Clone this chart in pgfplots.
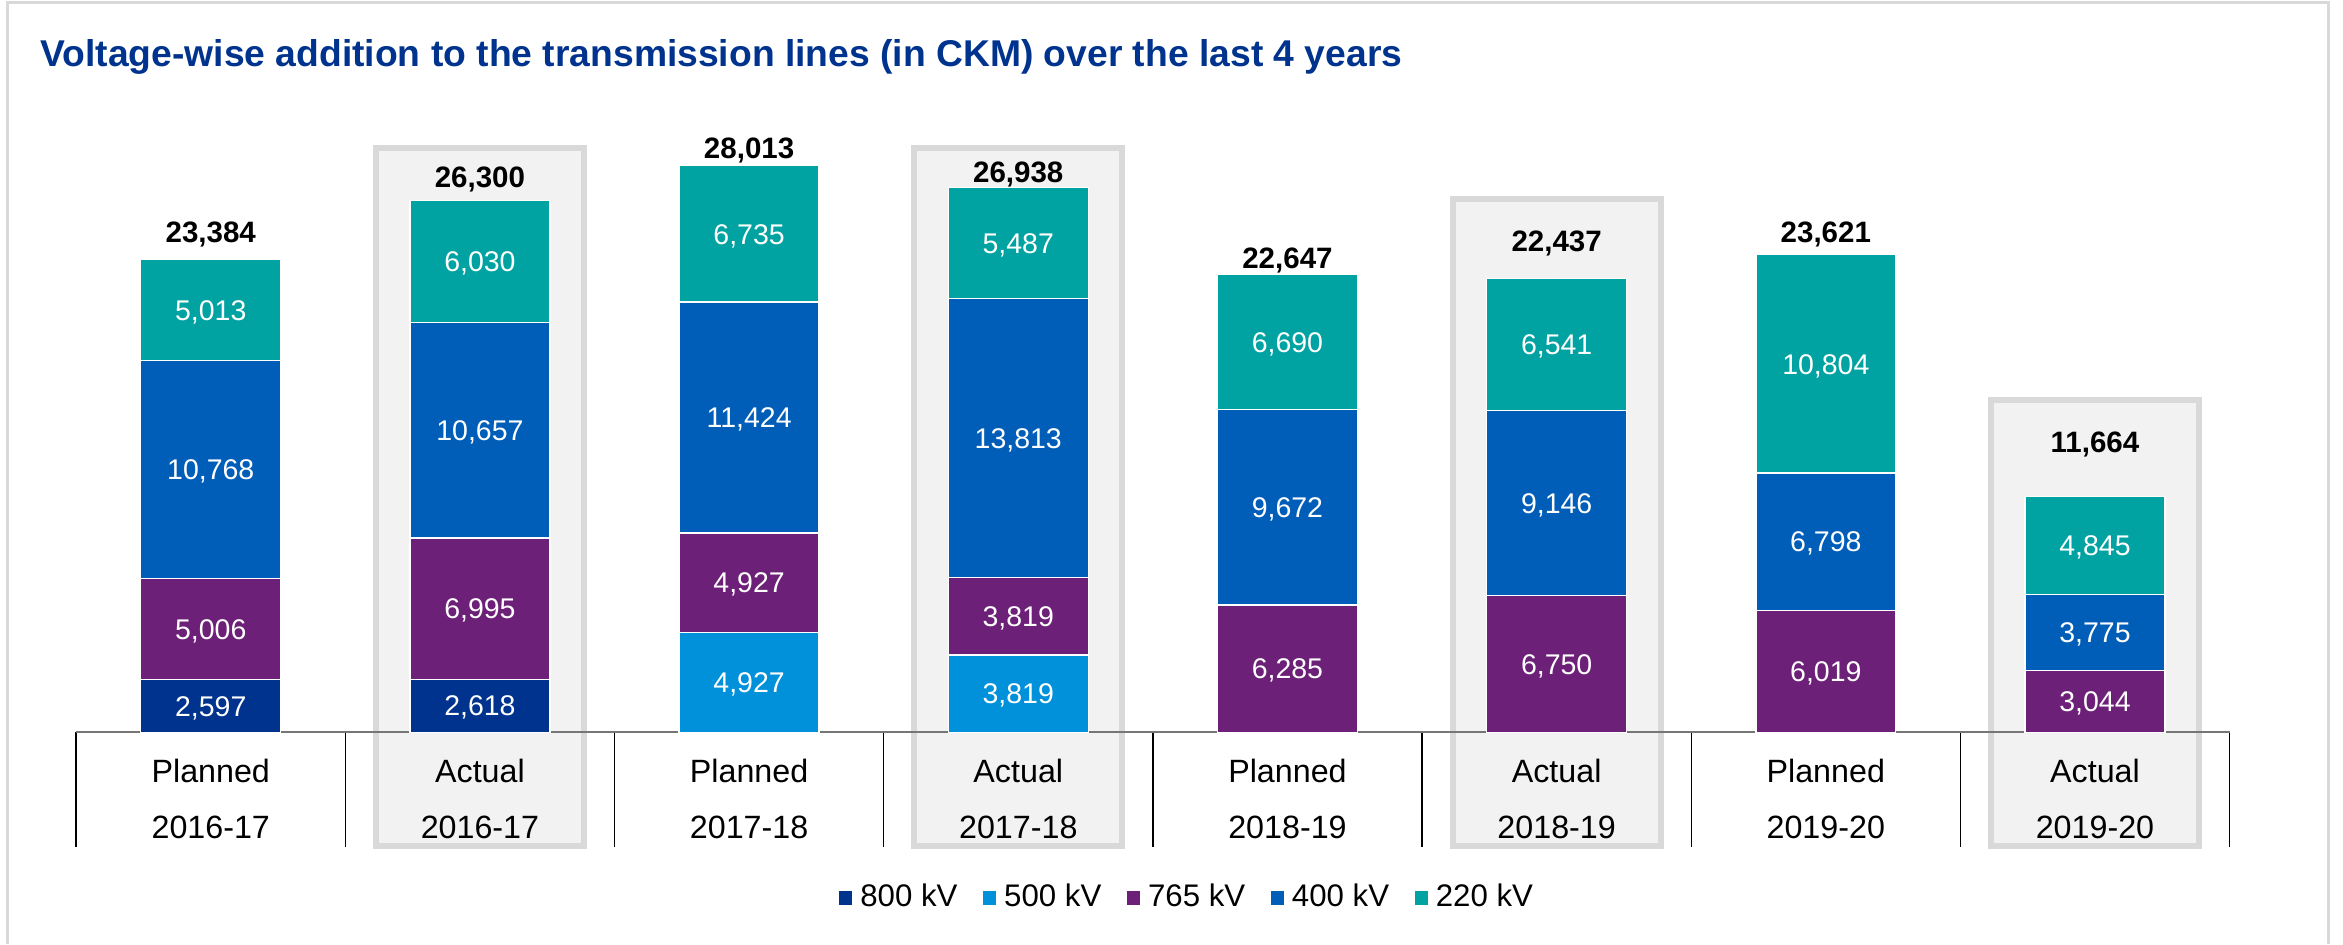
\documentclass[border=0pt]{standalone}
\usepackage{fontspec}
\setmainfont{Liberation Sans}
\usepackage{pgfplots}
\usepackage{pgfplotstable}
\pgfplotsset{compat=1.18}

\definecolor{c800}{HTML}{00338D}
\definecolor{c500}{HTML}{0091DA}
\definecolor{c765}{HTML}{6D2077}
\definecolor{c400}{HTML}{005EB8}
\definecolor{c220}{HTML}{00A3A1}
\definecolor{boxfill}{HTML}{F2F2F2}
\definecolor{boxline}{HTML}{D9D9D9}
\definecolor{baseln}{HTML}{767676}

% columns: category index, the five voltage classes, total, gap of the total label (pt)
\pgfplotstableread{
x v800 v500 v765 v400 v220 tot off
0 2597 0    5006 10768 5013  23384 5.0
1 2618 0    6995 10657 6030  26300 3.7
2 0    4927 4927 11424 6735  28013 2.0
3 0    3819 3819 13813 5487  26938 1.6
4 0    0    6285 9672  6690  22647 1.6
5 0    0    6750 9146  6541  22437 7.8
6 0    0    6019 6798  10804 23621 3.5
7 0    0    3044 3775  4845  11664 12.9
}\linedata

\pgfplotsset{
  /pgf/number format/1000 sep={,},
  /pgf/number format/assume math mode=true,
  frame/.style={scale only axis, width=627.6pt, height=176.8pt,
    xmin=-0.5, xmax=7.5, ymin=0, ymax=30000, clip=false},
  seg/.style={fill=#1, draw=white, line width=0.4pt, point meta=explicit,
    nodes near coords={\pgfmathfloatifflags{\pgfplotspointmeta}{0}{}{\pgfmathprintnumber{\pgfplotspointmeta}}},
    every node near coord/.append style={anchor=base, text=white,
      font=\fontsize{8.3}{10}\selectfont, yshift=-2.98pt}},
}

\begin{document}
\begin{tikzpicture}
% grey frames behind the "Actual" columns
\draw[boxline, fill=boxfill, line width=1.74pt] (87.39pt,-33.24pt) rectangle (147.96pt,170.32pt);
\draw[boxline, fill=boxfill, line width=1.74pt] (244.29pt,-33.24pt) rectangle (304.86pt,170.32pt);
\draw[boxline, fill=boxfill, line width=1.74pt] (401.19pt,-33.24pt) rectangle (461.76pt,155.52pt);
\draw[boxline, fill=boxfill, line width=1.74pt] (558.09pt,-33.24pt) rectangle (618.66pt,96.70pt);

\begin{axis}[
  frame,
  ybar stacked, bar width=0.52,
  axis line style={draw=none},
  major tick length=0pt,
  ytick=\empty,
  xtick={0,...,7},
  xticklabels={{Planned\\2016-17},{Actual\\2016-17},{Planned\\2017-18},{Actual\\2017-18},
               {Planned\\2018-19},{Actual\\2018-19},{Planned\\2019-20},{Actual\\2019-20}},
  xticklabel style={align=center, anchor=north, inner sep=0pt, yshift=-7.6pt,
    font=\fontsize{9.4}{16.4}\selectfont},
  legend style={at={(0.5167,-0.2735)}, anchor=center, draw=none, fill=none,
    legend columns=-1, font=\fontsize{9.1}{11}\selectfont,
    /tikz/every even column/.append style={column sep=5pt}},
  legend image code/.code={\fill[#1] (0pt,-2.3pt) rectangle (4.2pt,2.3pt);},
]
\addplot[seg=c800] table[x=x, y=v800, meta=v800] {\linedata};
\addplot[seg=c500] table[x=x, y=v500, meta=v500] {\linedata};
\addplot[seg=c765] table[x=x, y=v765, meta=v765] {\linedata};
\addplot[seg=c400] table[x=x, y=v400, meta=v400] {\linedata};
\addplot[seg=c220] table[x=x, y=v220, meta=v220] {\linedata};
\legend{800 kV, 500 kV, 765 kV, 400 kV, 220 kV}

\draw[baseln, line width=0.7pt] (axis cs:-0.5,0) -- (axis cs:7.5,0);
\draw[black, line width=0.4pt]
  (axis cs:-0.5,0) -- (axis cs:-0.5,-5669)
  (axis cs:0.5,0) -- (axis cs:0.5,-5669)
  (axis cs:1.5,0) -- (axis cs:1.5,-5669)
  (axis cs:2.5,0) -- (axis cs:2.5,-5669)
  (axis cs:3.5,0) -- (axis cs:3.5,-5669)
  (axis cs:4.5,0) -- (axis cs:4.5,-5669)
  (axis cs:5.5,0) -- (axis cs:5.5,-5669)
  (axis cs:6.5,0) -- (axis cs:6.5,-5669)
  (axis cs:7.5,0) -- (axis cs:7.5,-5669);
\end{axis}

% totals above the bars
\begin{axis}[frame, hide axis]
\addplot[only marks, mark=*, mark size=0pt, mark options={draw=none, fill=none},
  point meta=explicit, nodes near coords,
  visualization depends on={\thisrow{off} \as \toff},
  every node near coord/.append style={anchor=base, text=black,
    font=\fontsize{8.6}{10}\selectfont\bfseries, yshift=\toff pt}]
  table[x=x, y=tot, meta=tot] {\linedata};
\end{axis}

\node[anchor=base west, inner sep=0pt, text=c800,
  font=\fontsize{10.86}{12}\selectfont\bfseries] at (-10.6pt,194.0pt)
  {Voltage-wise addition to the transmission lines (in CKM) over the last 4 years};
\draw[boxline, line width=0.9pt] (-20pt,-61.84pt) -- (-20pt,212.6pt) -- (656.3pt,212.6pt) -- (656.3pt,-61.84pt);
\pgfresetboundingbox
\path[use as bounding box] (-22.2pt,-61.84pt) rectangle (660.65pt,213.4pt);
\end{tikzpicture}
\end{document}
